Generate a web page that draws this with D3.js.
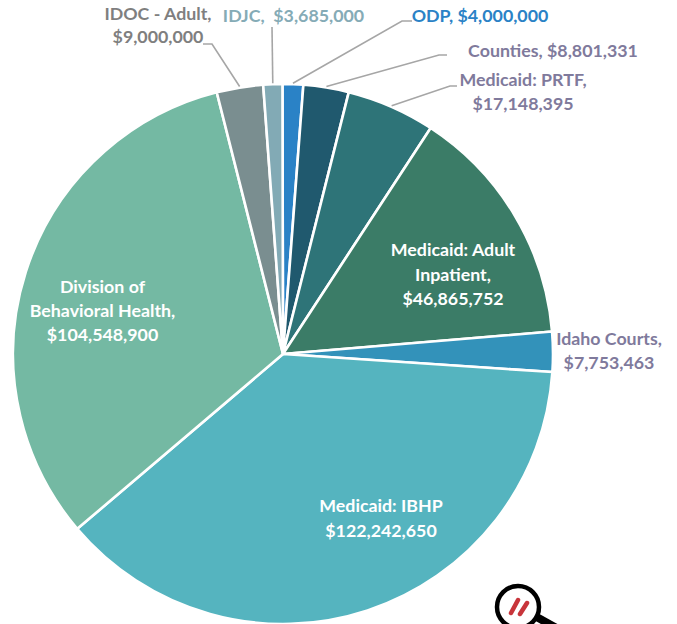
<!DOCTYPE html>
<html><head><meta charset="utf-8">
<script src="https://cdn.jsdelivr.net/npm/d3@7"></script>
<style>html,body{margin:0;padding:0;background:#fff}svg{display:block}text{font-family:Lato,"Open Sans",sans-serif;font-weight:700}</style>
</head><body><svg id="c" width="677" height="624"></svg>
<script>
const categories=["ODP","Counties","Medicaid: PRTF","Medicaid: Adult Inpatient","Idaho Courts","Medicaid: IBHP","Division of Behavioral Health","IDOC - Adult","IDJC"];
const values=[4000000,8801331,17148395,46865752,7753463,122242650,104548900,9000000,3685000];
const colors=["#2a82c6","#20596e","#2e7478","#3b7c67","#3392ba","#55b4bf","#74b9a3","#7a8e90","#82aab5"];
const labelLines=[["ODP, $4,000,000"],["Counties, $8,801,331"],["Medicaid: PRTF,","$17,148,395"],["Medicaid: Adult","Inpatient,","$46,865,752"],["Idaho Courts,","$7,753,463"],["Medicaid: IBHP","$122,242,650"],["Division of","Behavioral Health,","$104,548,900"],["IDOC - Adult,","$9,000,000"],["IDJC,  $3,685,000"]];
const labelColors=["#2a82c6","#7f7a9c","#7f7a9c","#fff","#7f7a9c","#fff","#fff","#7f7f7f","#85abb6"];
const labelAnchor=[[480,16],[553,51],[523,80],[453,250],[609,339],[381,506],[102.5,287],[158,14],[293.5,16]];
const leaderElbows=[[[402,21],[412,21]],[[439,55],[447,55]],[[450,86],[457,86]],null,null,null,null,[[212,44],[203,44]],[[272,27],[272,27]]];
const cx=283,cy=354,R=270;
const svg=d3.select("#c");
const pie=d3.pie().sort(null).startAngle(-0.002)(values);
const arc=d3.arc().innerRadius(0).outerRadius(R);
const g=svg.append("g").attr("transform",`translate(${cx},${cy})`);
g.selectAll("path").data(pie).join("path").attr("d",arc).attr("fill",(d,i)=>colors[i]).attr("stroke","#fff").attr("stroke-width",2.6).attr("stroke-linejoin","round");
// leaders
const mid=d=>(d.startAngle+d.endAngle)/2;
pie.forEach((d,i)=>{
  if(!leaderElbows[i])return;
  const a=mid(d),p=[cx+Math.sin(a)*(R+1),cy-Math.cos(a)*(R+1)];
  svg.append("path").attr("d",d3.line()([p,leaderElbows[i][0],leaderElbows[i][1]])).attr("fill","none").attr("stroke","#a6a6a6").attr("stroke-width",1.6);
});
// labels
const fs=17.8,lh=[0,0,24,24.5,24,25,24,23,0];
labelLines.forEach((ls,i)=>{
  const t=svg.append("text").attr("text-anchor","middle").attr("fill",labelColors[i]).attr("font-size",fs).attr("xml:space","preserve").style("white-space","pre");
  ls.forEach((s,j)=>t.append("tspan").attr("x",labelAnchor[i][0]).attr("y",labelAnchor[i][1]+j*(lh[i]||0)+6).text(s));
});
// magnifier icon
const ic=svg.append("g");
ic.append("path").attr("d","M533,615 L560,630").attr("stroke","#000").attr("stroke-width",8).attr("fill","none");
ic.append("circle").attr("cx",518).attr("cy",607).attr("r",21).attr("fill","#fff").attr("stroke","#000").attr("stroke-width",4.5);
ic.append("path").attr("d","M511,613 L518,600 M520,614 L527,603").attr("stroke","#c8353b").attr("stroke-width",4.5).attr("stroke-linecap","round");
</script></body></html>
